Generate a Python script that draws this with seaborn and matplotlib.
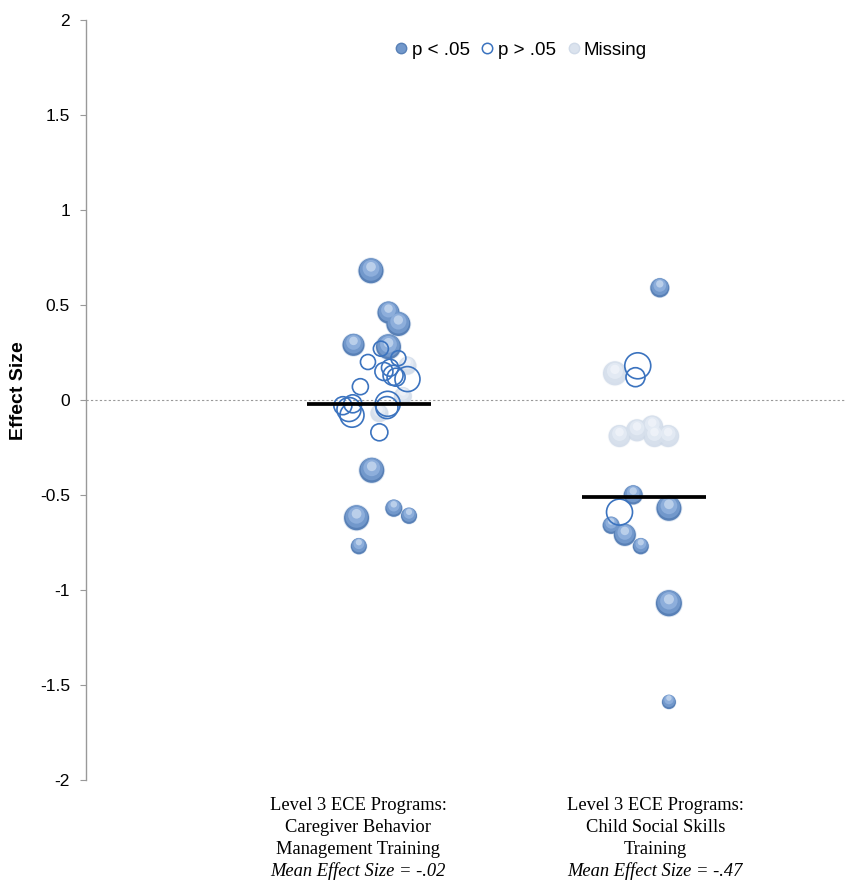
import numpy as np
import pandas as pd
import matplotlib
matplotlib.use("Agg")
import matplotlib.pyplot as plt
import matplotlib.transforms as mtransforms
from matplotlib.lines import Line2D
import seaborn as sns

# Caregiver Behavior Management Training
g1_sig_es = [0.68, 0.46, 0.40, 0.29, 0.28, -0.37, -0.62, -0.57, -0.61, -0.77]
g1_sig_off = [0.03, 0.26, 0.39, -0.20, 0.26, 0.04, -0.16, 0.33, 0.53, -0.13]
g1_sig_d = [25, 22, 24, 22, 25, 25, 25, 17, 16, 16]
g1_ns_es = [0.27, 0.20, 0.22, 0.17, 0.15, 0.13, 0.12, 0.11, 0.07, -0.05, -0.03, -0.02, -0.08, -0.02, -0.04, -0.17]
g1_ns_off = [0.16, -0.01, 0.39, 0.28, 0.20, 0.32, 0.36, 0.51, -0.11, -0.26, -0.34, -0.21, -0.22, 0.25, 0.24, 0.14]
g1_ns_d = [15, 15, 15, 17, 18, 20, 18, 25, 16, 24, 18, 18, 24, 25, 22, 17]
g1_na_es = [0.18, 0.02, -0.07]
g1_na_off = [0.51, 0.45, 0.14]
g1_na_d = [18, 18, 18]

# Child Social Skills Training
g2_sig_es = [0.59, -0.50, -0.57, -0.66, -0.71, -0.77, -1.07, -1.59]
g2_sig_off = [0.21, -0.14, 0.33, -0.43, -0.25, -0.04, 0.33, 0.33]
g2_sig_d = [19, 19, 25, 17, 22, 16, 26, 14]
g2_ns_es = [0.18, 0.12, -0.59]
g2_ns_off = [-0.08, -0.11, -0.32]
g2_ns_d = [26, 19, 26]
g2_na_es = [0.14, -0.19, -0.16, -0.14, -0.19, -0.19]
g2_na_off = [-0.38, -0.32, -0.09, 0.11, 0.14, 0.32]
g2_na_d = [24, 22, 22, 22, 22, 22]

mean_line = [-0.02, -0.51]
group_labels = ["Level 3 ECE Programs:\nCaregiver Behavior\nManagement Training",
                "Level 3 ECE Programs:\nChild Social Skills\nTraining"]
mean_labels = ["Mean Effect Size = -.02", "Mean Effect Size = -.47"]
yticks = [-2, -1.5, -1, -0.5, 0, 0.5, 1, 1.5, 2]
ytick_labels = ["-2", "-1.5", "-1", "-0.5", "0", "0.5", "1", "1.5", "2"]

centers = [3.72, 7.34]
label_x = [3.58, 7.49]

rows = []
for gi, parts in enumerate([
        [("sig", g1_sig_es, g1_sig_off, g1_sig_d), ("ns", g1_ns_es, g1_ns_off, g1_ns_d), ("na", g1_na_es, g1_na_off, g1_na_d)],
        [("sig", g2_sig_es, g2_sig_off, g2_sig_d), ("ns", g2_ns_es, g2_ns_off, g2_ns_d), ("na", g2_na_es, g2_na_off, g2_na_d)]]):
    for status, es, off, d in parts:
        for e, o, dd in zip(es, off, d):
            rows.append({"x": centers[gi] + o, "es": e, "d": dd, "status": status})
df = pd.DataFrame(rows)
df["s"] = (0.72 * df["d"]) ** 2

sns.set_theme(style="white")
plt.rcParams["font.family"] = ["Liberation Sans", "DejaVu Sans"]

fig = plt.figure(figsize=(8.46, 8.8), dpi=100)
ax = fig.add_axes([86 / 846, 100 / 880, 760 / 846, 760 / 880])

ax.axhline(0, color="#999999", linestyle=(0, (2, 2)), linewidth=0.8, zorder=1)


def shifted(dy):
    return ax.transData + mtransforms.ScaledTranslation(0, dy, fig.dpi_scale_trans)


def spheres(sub, edge, base, mid, hi, alpha=1.0):
    # soft outer rim, body, then lighter layers nudged upward
    ax.scatter(sub["x"], sub["es"], s=sub["s"] * 1.15, color=base, alpha=0.25 * alpha, linewidths=0, zorder=3)
    sns.scatterplot(data=sub, x="x", y="es", s=sub["s"].values, color=edge, alpha=alpha,
                    linewidth=0, ax=ax, zorder=3, legend=False)
    ax.scatter(sub["x"], sub["es"], s=sub["s"] * 0.8, color=base, alpha=alpha, linewidths=0,
               zorder=3, transform=shifted(0.012))
    ax.scatter(sub["x"], sub["es"], s=sub["s"] * 0.45, color=mid, alpha=alpha, linewidths=0,
               zorder=3, transform=shifted(0.025))
    ax.scatter(sub["x"], sub["es"], s=sub["s"] * 0.15, color=hi, alpha=0.8 * alpha, linewidths=0,
               zorder=3, transform=shifted(0.04))


spheres(df[df["status"] == "na"], "#cdd8e7", "#d8e1ed", "#e5ecf5", "#f4f7fb", alpha=0.8)
sns.scatterplot(data=df[df["status"] == "ns"], x="x", y="es", s=df[df["status"] == "ns"]["s"].values,
                facecolor="none", edgecolor="#3b73bf", linewidth=1.2, ax=ax, zorder=4, legend=False)
spheres(df[df["status"] == "sig"], "#5880b6", "#7298cb", "#8daedb", "#c6d8ef")

for c, m in zip(centers, mean_line):
    ax.plot([c - 0.815, c + 0.815], [m, m], color="black", linewidth=2.7, zorder=6, solid_capstyle="butt")

ax.set_xlim(0, 10)
ax.set_ylim(-2, 2)
ax.set_yticks(yticks)
ax.set_yticklabels(ytick_labels, fontsize=12.5, color="black")
ax.set_xticks([])
ax.set_xlabel("")
ax.set_ylabel("Effect Size", fontsize=14, fontweight="bold", color="black")
ax.yaxis.set_label_coords(-(86 - 27) / 760, 0.512)
ax.tick_params(axis="y", direction="out", length=4.5, width=0.8, color="#999999", pad=7, left=True)
for side in ["top", "right", "bottom"]:
    ax.spines[side].set_visible(False)
ax.spines["left"].set_color("#999999")
ax.spines["left"].set_linewidth(1)

blend = mtransforms.blended_transform_factory(ax.transData, ax.transAxes)
for lx, lab, ml in zip(label_x, group_labels, mean_labels):
    ax.text(lx, -0.022, lab, transform=blend, ha="center", va="top", fontsize=13.3,
            family="Liberation Serif", linespacing=1.38, color="black")
    ax.text(lx, -0.108, ml, transform=blend, ha="center", va="top", fontsize=13.3,
            family="Liberation Serif", style="italic", color="black")

handles = [
    Line2D([], [], marker="o", linestyle="none", markersize=7.5, markerfacecolor="#7298cb", markeredgecolor="#5880b6"),
    Line2D([], [], marker="o", linestyle="none", markersize=7.5, markerfacecolor="none", markeredgecolor="#3b73bf", markeredgewidth=1.1),
    Line2D([], [], marker="o", linestyle="none", markersize=7.5, markerfacecolor="#dbe3ee", markeredgecolor="#d0dae8"),
]
leg = ax.legend(handles, ["p < .05", "p > .05", "Missing"], loc="center", bbox_to_anchor=(0.571, 0.96),
                ncol=3, frameon=False, fontsize=13.5, handletextpad=0.1, columnspacing=0.5, handlelength=0.9)
for t in leg.get_texts():
    t.set_color("black")

fig.savefig("out.png", dpi=100)
